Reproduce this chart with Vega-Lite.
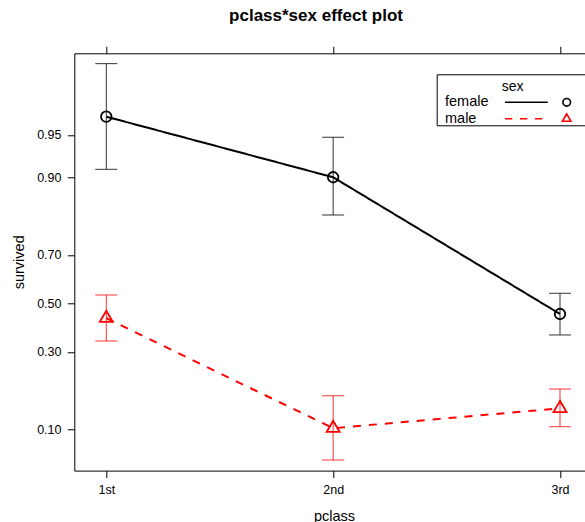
{
  "$schema": "https://vega.github.io/schema/vega-lite/v6.json",
  "width": 510.7,
  "height": 417.3,
  "autosize": {"type": "none"},
  "padding": {"left": 74.3, "top": 53.3, "right": 0, "bottom": 51.4},
  "title": {
    "text": "pclass*sex effect plot",
    "font": "Liberation Sans",
    "fontSize": 17,
    "fontWeight": "bold",
    "color": "black",
    "anchor": "middle",
    "frame": "group",
    "baseline": "alphabetic",
    "dx": -13.65,
    "offset": 7.5
  },
  "config": {
    "font": "Liberation Sans",
    "view": {"stroke": null},
    "axis": {
      "grid": false,
      "domainColor": "black",
      "tickColor": "black",
      "labelColor": "black",
      "titleColor": "black",
      "domainWidth": 1,
      "tickWidth": 1,
      "tickSize": 7,
      "labelFont": "Liberation Sans",
      "titleFont": "Liberation Sans",
      "labelFontSize": 12.5,
      "titleFontSize": 14.5,
      "titleFontWeight": "normal"
    }
  },
  "data": {
    "values": [
      {"pclass": "1st", "sex": "female", "fit": 3.264, "lower": 2.344, "upper": 4.191},
      {"pclass": "2nd", "sex": "female", "fit": 2.205, "lower": 1.545, "upper": 2.904},
      {"pclass": "3rd", "sex": "female", "fit": -0.185, "lower": -0.552, "upper": 0.177},
      {"pclass": "1st", "sex": "male", "fit": -0.259, "lower": -0.657, "upper": 0.147},
      {"pclass": "2nd", "sex": "male", "fit": -2.182, "lower": -2.738, "upper": -1.614},
      {"pclass": "3rd", "sex": "male", "fit": -1.834, "lower": -2.156, "upper": -1.497}
    ]
  },
  "layer": [
    {
      "mark": {"type": "rule", "strokeWidth": 1, "opacity": 0.8},
      "encoding": {
        "x": {
          "field": "pclass", "type": "ordinal",
          "scale": {"type": "point", "domain": ["1st", "2nd", "3rd"], "padding": 0.1256, "align": 0.5615},
          "axis": {
            "title": "pclass", "labelAngle": 0, "labelPadding": 5.8,
            "titleX": 259.7, "titleY": 49.4, "titleBaseline": "alphabetic", "titleAlign": "center"
          }
        },
        "y": {
          "field": "lower", "type": "quantitative",
          "scale": {"domain": [-2.923, 4.372], "nice": false, "zero": false},
          "axis": {
            "title": "survived",
            "values": [-2.1972, -0.8473, 0, 0.8473, 2.1972, 2.9444],
            "labelExpr": "format(1/(1+exp(-datum.value)), '.2f')",
            "labelPadding": 6.3,
            "labelOverlap": false,
            "labelFlush": false,
            "titleX": -51,
            "titleY": 208.5,
            "titleAngle": 270,
            "titleBaseline": "alphabetic",
            "titleAlign": "center"
          }
        },
        "y2": {"field": "upper"},
        "stroke": {"field": "sex", "type": "nominal", "scale": {"range": ["black", "red"]}, "legend": null}
      }
    },
    {
      "mark": {"type": "tick", "orient": "horizontal", "size": 22, "thickness": 1, "opacity": 0.8},
      "encoding": {
        "x": {"field": "pclass", "type": "ordinal", "axis": null},
        "y": {"field": "lower", "type": "quantitative"},
        "fill": {"field": "sex", "type": "nominal", "scale": {"range": ["black", "red"]}, "legend": null}
      }
    },
    {
      "mark": {"type": "tick", "orient": "horizontal", "size": 22, "thickness": 1, "opacity": 0.8},
      "encoding": {
        "x": {"field": "pclass", "type": "ordinal", "axis": null},
        "y": {"field": "upper", "type": "quantitative"},
        "fill": {"field": "sex", "type": "nominal", "legend": null}
      }
    },
    {
      "mark": {"type": "line", "strokeWidth": 2},
      "encoding": {
        "x": {"field": "pclass", "type": "ordinal", "axis": null},
        "y": {"field": "fit", "type": "quantitative"},
        "stroke": {"field": "sex", "type": "nominal", "legend": null},
        "strokeDash": {"field": "sex", "type": "nominal", "scale": {"range": [[1, 0], [8, 8]]}, "legend": null}
      }
    },
    {
      "mark": {"type": "point", "filled": false, "strokeWidth": 1.8, "opacity": 1, "size": 196},
      "encoding": {
        "x": {"field": "pclass", "type": "ordinal", "axis": {"orient": "top", "labels": false, "title": null, "tickSize": 7}},
        "y": {"field": "fit", "type": "quantitative"},
        "shape": {
          "field": "sex", "type": "nominal",
          "scale": {"range": ["M0.75,0A0.75,0.75,0,1,1,-0.75,0A0.75,0.75,0,1,1,0.75,0Z", "M0,-1.07L0.93,0.536L-0.93,0.536Z"]},
          "legend": null
        },
        "stroke": {"field": "sex", "type": "nominal", "legend": null}
      }
    },
    {
      "transform": [{"filter": "false"}],
      "mark": {"type": "point", "filled": false, "strokeWidth": 1.6, "opacity": 1, "size": 64},
      "encoding": {
        "x": {"field": "pclass", "type": "ordinal", "axis": null},
        "y": {"field": "fit", "type": "quantitative"},
        "shape": {
          "field": "sex", "type": "nominal",
          "scale": {
            "domain": ["female", "male"],
            "range": [
              "M15.26,0L25.94,0M31.64,0A0.95,0.95,0,1,1,29.74,0A0.95,0.95,0,1,1,31.64,0M35.2,0",
              "M15.26,0L17.09,0M19.01,0L20.84,0M22.76,0L24.59,0M30.69,-1.23L31.75,0.61L29.63,0.61ZM35.2,0"
            ]
          }
        },
        "color": {
          "field": "sex", "type": "nominal",
          "scale": {"domain": ["female", "male"], "range": ["black", "red"]},
          "legend": {
            "title": "sex",
            "orient": "none",
            "legendX": 362.4,
            "legendY": 21,
            "direction": "vertical",
            "padding": 0,
            "strokeColor": "black",
            "fillColor": "white",
            "titleFont": "Liberation Sans",
            "titleFontSize": 14,
            "titleFontWeight": "normal",
            "titleColor": "black",
            "titleAnchor": "middle",
            "titleAlign": "center",
            "titleBaseline": "line-top",
            "titleLineHeight": 26,
            "titlePadding": 6.75,
            "labelFont": "Liberation Sans",
            "labelFontSize": 14.5,
            "labelColor": "black",
            "labelOffset": -6.2,
            "labelAlign": "left",
            "labelBaseline": "middle",
            "symbolSize": 64,
            "symbolStrokeWidth": 1.6,
            "rowPadding": 0.5
          }
        }
      }
    }
  ],
  "resolve": {
    "axis": {"x": "independent"},
    "scale": {"shape": "independent", "color": "independent"}
  }
}
